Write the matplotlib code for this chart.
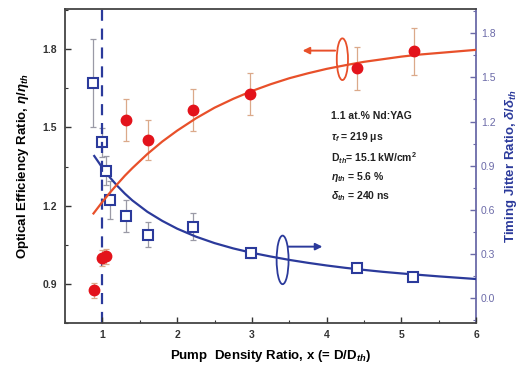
import matplotlib
matplotlib.use("Agg")
import matplotlib.pyplot as plt
from matplotlib.patches import Ellipse
from matplotlib.ticker import MultipleLocator

# Optical efficiency ratio (left axis)
eff_x = [0.88, 0.99, 1.05, 1.31, 1.61, 2.21, 2.98, 4.40, 5.17]
eff_y = [0.875, 1.00, 1.005, 1.528, 1.451, 1.567, 1.628, 1.727, 1.793]
eff_err = [0.03, 0.03, 0.03, 0.08, 0.077, 0.08, 0.08, 0.083, 0.09]

# Timing jitter ratio (right axis)
jit_x = [0.875, 0.99, 1.05, 1.10, 1.31, 1.61, 2.21, 2.99, 4.40, 5.15]
jit_y = [1.464, 1.059, 0.866, 0.667, 0.559, 0.430, 0.486, 0.305, 0.206, 0.143]
jit_err = [0.30, 0.10, 0.10, 0.13, 0.11, 0.085, 0.09, 0.03, 0.02, 0.02]

# Fit curves
fit_eff_x = [0.88, 1.0, 1.1, 1.2, 1.3, 1.4, 1.6, 1.8, 2.0, 2.25, 2.5, 2.75, 3.0, 3.25, 3.5, 3.75,
             4.0, 4.25, 4.5, 4.75, 5.0, 5.25, 5.5, 5.75, 6.0]
fit_eff_y = [1.170, 1.215, 1.250, 1.283, 1.315, 1.344, 1.398, 1.446, 1.488, 1.535, 1.576, 1.610, 1.640,
             1.666, 1.689, 1.708, 1.725, 1.739, 1.752, 1.762, 1.772, 1.780, 1.786, 1.792, 1.798]
fit_jit_x = [0.89, 1.0, 1.1, 1.2, 1.3, 1.4, 1.6, 1.8, 2.0, 2.25, 2.5, 2.75, 3.0, 3.25, 3.5, 3.75,
             4.0, 4.25, 4.5, 4.75, 5.0, 5.25, 5.5, 5.75, 6.0]
fit_jit_y = [0.966, 0.885, 0.820, 0.762, 0.710, 0.664, 0.587, 0.525, 0.472, 0.418, 0.374, 0.338, 0.308,
             0.283, 0.260, 0.240, 0.222, 0.206, 0.192, 0.179, 0.168, 0.158, 0.148, 0.139, 0.130]

xticks = [1, 2, 3, 4, 5, 6]
left_ticks = [0.9, 1.2, 1.5, 1.8]
right_ticks = [0.0, 0.3, 0.6, 0.9, 1.2, 1.5, 1.8]

red = "#e3131b"
red_line = "#e8502a"
red_err = "#dba98a"
blue = "#2b3a9b"
blue_tick = "#6b6aa8"
gray_err = "#9a9aa6"

plt.rcParams['font.family'] = ['Liberation Sans', 'DejaVu Sans']
plt.rcParams['mathtext.fontset'] = 'custom'
plt.rcParams['mathtext.rm'] = 'Liberation Sans:bold'
plt.rcParams['mathtext.it'] = 'Liberation Sans:italic:bold'
plt.rcParams['mathtext.bf'] = 'Liberation Sans:bold'

fig = plt.figure(figsize=(5.25, 3.72), dpi=100)
ax = fig.add_axes([0.124, 0.132, 0.783, 0.844])
ax2 = ax.twinx()

ax.set_xlim(0.5, 6)
ax.set_ylim(0.75, 1.955)
ax2.set_ylim(-0.168, 1.965)

# vertical dashed line at x=1
ax.axvline(1.0, color=blue, lw=1.6, ls=(0, (5, 3.5)), zorder=1)

# jitter data
ax2.errorbar(jit_x, jit_y, yerr=jit_err, fmt='none', ecolor=gray_err, elinewidth=0.9, capsize=2.5, capthick=0.9, zorder=2)
ax2.plot(fit_jit_x, fit_jit_y, color=blue, lw=1.6, zorder=3)
ax2.plot(jit_x, jit_y, 's', mfc='white', mec=blue, mew=1.5, ms=6.5, zorder=4)

# efficiency data
ax.errorbar(eff_x, eff_y, yerr=eff_err, fmt='none', ecolor=red_err, elinewidth=0.9, capsize=2.5, capthick=0.9, zorder=2)
ax.plot(fit_eff_x, fit_eff_y, color=red_line, lw=1.6, zorder=3)
ax.plot(eff_x, eff_y, 'o', color=red, mec=red, ms=7.5, zorder=4)
ax.set_zorder(ax2.get_zorder() + 1)
ax.patch.set_visible(False)

# ellipses and arrows
ax.add_patch(Ellipse((4.21, 1.762), 0.15, 0.16, fill=False, ec=red_line, lw=1.3, zorder=5))
ax.annotate('', xy=(3.64, 1.795), xytext=(4.15, 1.795),
            arrowprops=dict(arrowstyle='-|>', color=red_line, lw=1.4, mutation_scale=10))
ax2.add_patch(Ellipse((3.41, 0.26), 0.16, 0.33, fill=False, ec=blue, lw=1.3, zorder=5))
ax2.annotate('', xy=(3.98, 0.35), xytext=(3.45, 0.35),
             arrowprops=dict(arrowstyle='-|>', color=blue, lw=1.4, mutation_scale=10))

# text block
lines = ["1.1 at.% Nd:YAG", r"$\tau_f$ = 219 μs", r"D$_{th}$= 15.1 kW/cm$^2$",
         r"$\eta_{th}$ = 5.6 %", r"$\delta_{th}$ = 240 ns"]
ys = [116, 137, 158, 177, 196]
for s, yp in zip(lines, ys):
    fig.text(331 / 525, 1 - yp / 372, s, fontsize=7.5, fontweight='bold', va='center', ha='left', color='#222222')

# ticks
ax.set_xticks(xticks)
ax.xaxis.set_minor_locator(MultipleLocator(0.5))
ax.set_yticks(left_ticks)
ax.yaxis.set_minor_locator(MultipleLocator(0.15))
ax2.set_yticks(right_ticks)
ax2.yaxis.set_minor_locator(MultipleLocator(0.15))

ax.tick_params(axis='both', which='major', direction='in', length=4, width=1, labelsize=7.5, colors='#333333')
ax.tick_params(axis='both', which='minor', direction='in', length=2, width=0.8, colors='#333333')
ax2.tick_params(axis='y', which='major', direction='in', length=4, width=1, labelsize=7.5, colors=blue_tick)
ax2.tick_params(axis='y', which='minor', direction='in', length=2, width=0.8, colors=blue_tick)
for lab in ax.get_xticklabels() + ax.get_yticklabels():
    lab.set_fontweight('bold')
ax.tick_params(axis='y', pad=6)
ax.tick_params(axis='x', pad=5)

for sp in ['left', 'bottom', 'top']:
    ax.spines[sp].set_color('#444444')
    ax.spines[sp].set_linewidth(1.3)
ax.spines['right'].set_visible(False)
for sp in ['left', 'bottom', 'top']:
    ax2.spines[sp].set_visible(False)
ax2.spines['right'].set_color(blue_tick)
ax2.spines['right'].set_linewidth(1.3)

ax.set_xlabel(r"Pump  Density Ratio, x (= D/D$_{th}$)", fontsize=9.5, fontweight='bold', labelpad=6)
ax.set_ylabel(r"Optical Efficiency Ratio, $\eta/\eta_{th}$", fontsize=9.5, fontweight='bold', labelpad=8)
ax2.set_ylabel(r"Timing Jitter Ratio, $\delta/\delta_{th}$", fontsize=9.5, fontweight='bold', color=blue, labelpad=5)

fig.savefig("out.png", dpi=100)
